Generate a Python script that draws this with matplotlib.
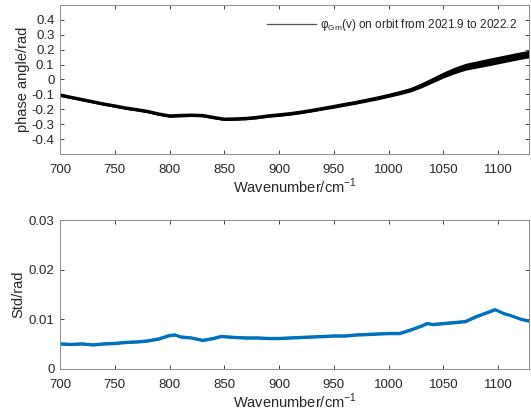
import matplotlib
matplotlib.use("Agg")
import matplotlib.pyplot as plt
import numpy as np

plt.rcParams['font.family'] = ['Liberation Sans', 'DejaVu Sans']
plt.rcParams['mathtext.fontset'] = 'custom'
plt.rcParams['mathtext.rm'] = 'Liberation Sans'

# ---- data ----
phase_wn = [700, 710, 720, 730, 740, 750, 760, 770, 780, 790, 800, 810, 820, 830,
            840, 850, 860, 870, 880, 890, 900, 910, 920, 930, 940, 950, 960, 970,
            980, 990, 1000, 1010, 1020, 1030, 1040, 1050, 1060, 1070, 1080, 1090,
            1100, 1110, 1120, 1128]
phase_val = [-0.105, -0.12, -0.135, -0.15, -0.165, -0.178, -0.192, -0.203, -0.215,
             -0.232, -0.245, -0.242, -0.24, -0.242, -0.255, -0.267, -0.265, -0.262,
             -0.255, -0.245, -0.238, -0.23, -0.22, -0.208, -0.195, -0.182, -0.168,
             -0.155, -0.14, -0.125, -0.108, -0.09, -0.07, -0.04, -0.005, 0.03, 0.06,
             0.085, 0.10, 0.115, 0.13, 0.145, 0.16, 0.17]
phase_spread = [0.009, 0.009, 0.009, 0.009, 0.009, 0.009, 0.009, 0.009, 0.009,
                0.009, 0.009, 0.009, 0.009, 0.009, 0.009, 0.009, 0.009, 0.009,
                0.009, 0.009, 0.010, 0.010, 0.010, 0.010, 0.010, 0.011, 0.011,
                0.011, 0.011, 0.012, 0.012, 0.013, 0.014, 0.016, 0.018, 0.020,
                0.022, 0.023, 0.024, 0.025, 0.025, 0.025, 0.025, 0.025]

std_wn = [700, 710, 720, 730, 740, 750, 760, 770, 780, 790, 800, 805, 810, 820,
          830, 840, 847, 860, 870, 880, 890, 900, 910, 920, 930, 940, 950, 960,
          970, 980, 990, 1000, 1010, 1020, 1030, 1035, 1040, 1050, 1060, 1070,
          1080, 1090, 1097, 1105, 1110, 1120, 1128]
std_val = [0.0051, 0.0050, 0.0051, 0.0049, 0.0051, 0.0052, 0.0054, 0.0055, 0.0057,
           0.0061, 0.0068, 0.0069, 0.0065, 0.0063, 0.0058, 0.0062, 0.0066, 0.0064,
           0.0063, 0.0063, 0.0062, 0.0062, 0.0063, 0.0064, 0.0065, 0.0066, 0.0067,
           0.0067, 0.0069, 0.0070, 0.0071, 0.0072, 0.0072, 0.0079, 0.0087, 0.0092,
           0.0090, 0.0092, 0.0094, 0.0096, 0.0106, 0.0114, 0.0120, 0.0112, 0.0109,
           0.0101, 0.0097]
std_spread = 0.0003

legend_label = r'φ$_{\mathregular{Gm}}$(v) on orbit from 2021.9 to 2022.2'
x_label = r'Wavenumber/cm$^{\mathregular{-1}}$'

# ---- figure ----
fig = plt.figure(figsize=(5.31, 4.16), dpi=100)
ax1 = fig.add_axes([0.113, 0.630, 0.883, 0.358])
ax2 = fig.add_axes([0.113, 0.113, 0.883, 0.358])

axis_col = '#262626'
spine_col = '#8c8c8c'

pw = np.array(phase_wn); pv = np.array(phase_val); ps = np.array(phase_spread)
ax1.fill_between(pw, pv - ps, pv + ps, color='black', lw=0)
ax1.plot(pw, pv, color='black', lw=2.4)
ax1.plot([], [], color='#555555', lw=0.9, label=legend_label)
ax1.set_xlim(700, 1128)
ax1.set_ylim(-0.5, 0.5)
ax1.set_yticks(np.arange(-0.4, 0.41, 0.1))
ax1.set_yticklabels(['-0.4', '-0.3', '-0.2', '-0.1', '0', '0.1', '0.2', '0.3', '0.4'])
ax1.set_ylabel('phase angle/rad', fontsize=10.5, color=axis_col, labelpad=1)
leg = ax1.legend(loc='upper right', frameon=False, fontsize=8.5,
                 handlelength=4.2, handletextpad=0.3, borderaxespad=0.7,
                 borderpad=0.3)
for t in leg.get_texts():
    t.set_color(axis_col)

sw = np.array(std_wn); sv = np.array(std_val)
ax2.fill_between(sw, sv - std_spread, sv + std_spread, color='#0072BD', lw=0)
ax2.plot(sw, sv, color='#0072BD', lw=2.0)
ax2.set_xlim(700, 1128)
ax2.set_ylim(0, 0.03)
ax2.set_yticks([0, 0.01, 0.02, 0.03])
ax2.set_yticklabels(['0', '0.01', '0.02', '0.03'])
ax2.set_ylabel('Std/rad', fontsize=10.5, color=axis_col, labelpad=2)

for ax in (ax1, ax2):
    ax.set_xticks([700, 750, 800, 850, 900, 950, 1000, 1050, 1100])
    ax.set_xlabel(x_label, fontsize=10.5, color=axis_col, labelpad=1)
    ax.tick_params(direction='in', top=True, right=True, length=3, width=0.6,
                   colors=axis_col, labelsize=9.5)
    ax.tick_params(axis='x', pad=7)
    ax.tick_params(axis='y', pad=4)
    for s in ax.spines.values():
        s.set_color(spine_col)
        s.set_linewidth(0.7)

fig.savefig('out.png', dpi=100)
